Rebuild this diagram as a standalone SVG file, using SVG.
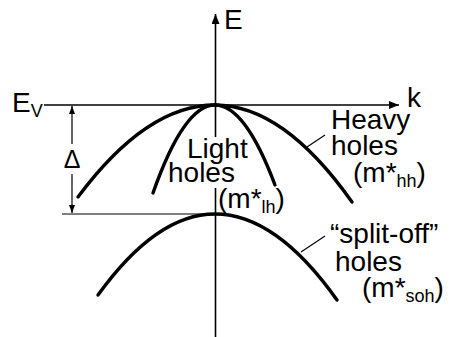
<svg xmlns="http://www.w3.org/2000/svg" width="455" height="337" viewBox="0 0 455 337">
<style>
.lbl{font-family:"Liberation Sans",Arial,sans-serif;font-size:28px;fill:#000}
.sub{font-size:18px}
.axis{stroke:#000;stroke-width:1.6;fill:none}
.thin{stroke:#000;stroke-width:1.2;fill:none}
.band{stroke:#000;stroke-width:3.4;fill:none;stroke-linecap:round}
</style>
<defs>
<marker id="ah" viewBox="0 0 10 8" refX="10" refY="4" markerWidth="10" markerHeight="8" markerUnits="userSpaceOnUse" orient="auto">
<path d="M0,0 L10,4 L0,8 Z" fill="#000"/>
</marker>
<marker id="ahs" viewBox="0 0 8 6" refX="8" refY="3" markerWidth="8" markerHeight="6" markerUnits="userSpaceOnUse" orient="auto">
<path d="M0,0 L8,3 L0,6 Z" fill="#000"/>
</marker>
</defs>
<rect width="455" height="337" fill="#fff"/>
<g id="connectors">
<line class="axis" x1="215.5" y1="337" x2="215.5" y2="188"/>
<line class="axis" x1="215.5" y1="137" x2="215.5" y2="14" marker-end="url(#ah)"/>
<line class="axis" x1="44" y1="105" x2="399" y2="105" marker-end="url(#ah)"/>
<line class="thin" x1="62" y1="214" x2="215" y2="214"/>
<line class="thin" x1="72" y1="144" x2="72" y2="106" marker-end="url(#ahs)"/>
<line class="thin" x1="72" y1="174" x2="72" y2="213" marker-end="url(#ahs)"/>
<line class="thin" x1="325" y1="135" x2="307" y2="147"/>
<line class="thin" x1="325" y1="236" x2="301" y2="252"/>
</g>
<g id="heavy-holes">
<path class="band" d="M78,197 Q146.5,105 215,105 Q283.5,105 352,202"/>
<text class="lbl" x="331" y="129">Heavy</text>
<text class="lbl" x="331" y="155">holes</text>
<text class="lbl" x="353" y="182">(m*<tspan class="sub" dy="5">hh</tspan><tspan dy="-5">)</tspan></text>
</g>
<g id="light-holes">
<path class="band" d="M153,193 Q184,105 215,105 Q245,105 275,185"/>
<text class="lbl" x="187" y="158">Light</text>
<text class="lbl" x="168" y="182">holes</text>
<text class="lbl" x="218" y="208">(m*<tspan class="sub" dy="5">lh</tspan><tspan dy="-5">)</tspan></text>
</g>
<g id="split-off-holes">
<path class="band" d="M98,295 Q156.5,214 215,214 Q276,214 337,300"/>
<text class="lbl" x="330" y="243">“split-off”</text>
<text class="lbl" x="335" y="271">holes</text>
<text class="lbl" x="362" y="297">(m*<tspan class="sub" dy="5">soh</tspan><tspan dy="-5">)</tspan></text>
</g>
<g id="axis-labels">
<text class="lbl" x="224" y="29">E</text>
<text class="lbl" x="407" y="107">k</text>
<text class="lbl" x="12" y="112">E<tspan class="sub" dy="5">V</tspan></text>
<text class="lbl" x="72" y="168" text-anchor="middle" style="font-size:25px">Δ</text>
</g>
</svg>
